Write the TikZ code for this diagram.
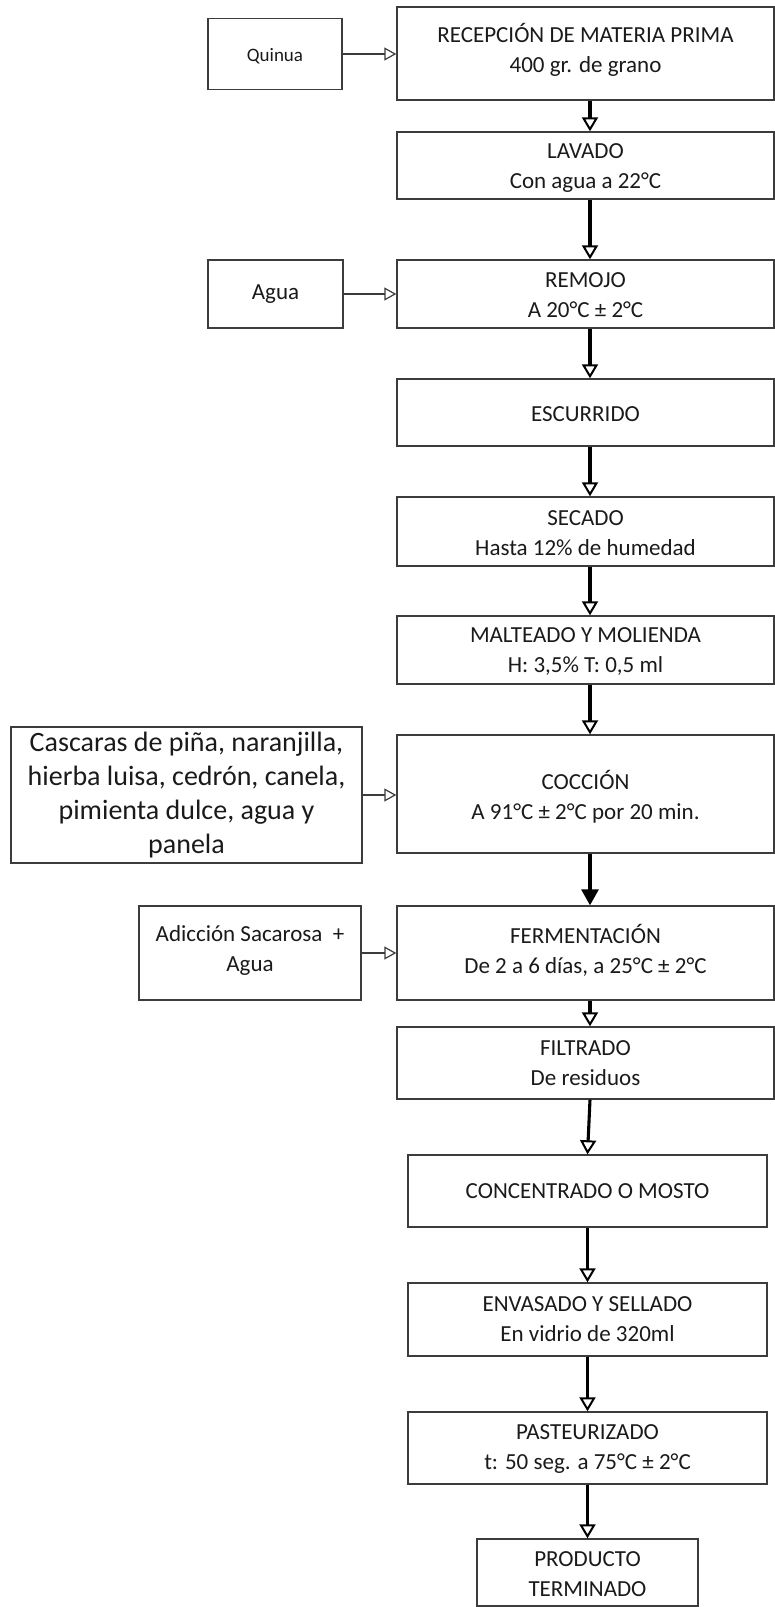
\documentclass[tikz,border=0pt]{standalone}
\usepackage{fontspec}
\setmainfont{Carlito}
\usetikzlibrary{arrows.meta}
\definecolor{linec}{HTML}{3C3C3C}
\definecolor{textc}{HTML}{1A1A1A}
\tikzset{
  stepbox/.style={draw=linec, line width=1.4pt, inner sep=0pt},
  txt/.style={inner sep=0pt, align=center, text=textc, font=\fontsize{23}{30}\selectfont},
  flow/.style={line width=3.1pt, draw=black,
    -{Triangle[open, length=14pt, width=16pt, line width=2pt]}},
  flowfill/.style={line width=3.1pt, draw=black,
    -{Triangle[length=16pt, width=17pt]}},
  side/.style={line width=1.1pt, draw=linec,
    -{Triangle[open, length=12pt, width=13pt, line width=1.2pt]}},
}
\begin{document}
\begin{tikzpicture}[x=1pt,y=-1pt]
\useasboundingbox (0,0) rectangle (775,1607);
% main column boxes
\node[stepbox, minimum width=377pt, minimum height=93pt] (r1) at (585.5,53.5) {};
\node[stepbox, minimum width=377pt, minimum height=67pt] (r2) at (585.5,165.5) {};
\node[stepbox, minimum width=377pt, minimum height=68pt] (r3) at (585.5,294) {};
\node[stepbox, minimum width=377pt, minimum height=67pt] (r4) at (585.5,412.5) {};
\node[stepbox, minimum width=377pt, minimum height=69pt] (r5) at (585.5,531.5) {};
\node[stepbox, minimum width=377pt, minimum height=68pt] (r6) at (585.5,650) {};
\node[stepbox, minimum width=377pt, minimum height=118pt] (r7) at (585.5,794) {};
\node[stepbox, minimum width=377pt, minimum height=94pt] (r8) at (585.5,953) {};
\node[stepbox, minimum width=377pt, minimum height=72pt] (r9) at (585.5,1063) {};
\node[stepbox, minimum width=359pt, minimum height=72pt] (r10) at (587.5,1191) {};
\node[stepbox, minimum width=359pt, minimum height=73pt] (r11) at (587.5,1319.5) {};
\node[stepbox, minimum width=359pt, minimum height=72pt] (r12) at (587.5,1448) {};
\node[stepbox, minimum width=221pt, minimum height=67pt] (r13) at (587.5,1572.5) {};
% input boxes
\node[stepbox, minimum width=134pt, minimum height=71pt] (q) at (275,54) {};
\node[stepbox, minimum width=135pt, minimum height=68pt] (ag) at (275.5,294) {};
\node[stepbox, minimum width=351pt, minimum height=136pt] (ca) at (186.5,795) {};
\node[stepbox, minimum width=222pt, minimum height=94pt] (ad) at (250,953) {};
% texts
\node[txt] (t1) at ([yshift=4pt]r1.center) {RECEPCIÓN DE MATERIA PRIMA\\400 gr. de grano};
\node[txt] (t2) at ([yshift=-3pt]r2.center) {LAVADO\\Con agua a 22°C};
\node[txt] (t3) at ([yshift=-1.5pt]r3.center) {REMOJO\\A 20°C ± 2°C};
\node[txt] (t4) at ([yshift=-1.5pt]r4.center) {ESCURRIDO};
\node[txt] (t5) at ([yshift=-2pt]r5.center) {SECADO\\Hasta 12\% de humedad};
\node[txt] (t6) at ([yshift=-1pt]r6.center) {MALTEADO Y MOLIENDA\\H: 3,5\% T: 0,5 ml};
\node[txt] (t7) at ([yshift=-3pt]r7.center) {COCCIÓN\\A 91°C ± 2°C por 20 min.};
\node[txt] (t8) at ([yshift=3pt]r8.center) {FERMENTACIÓN\\De 2 a 6 días, a 25°C ± 2°C};
\node[txt] (t9) at (r9.center) {FILTRADO\\De residuos};
\node[txt] (t10) at (r10.center) {CONCENTRADO O MOSTO};
\node[txt] (t11) at (r11.center) {ENVASADO Y SELLADO\\En vidrio de 320ml};
\node[txt] (t12) at ([yshift=-1pt]r12.center) {PASTEURIZADO\\t: 50 seg. a 75°C ± 2°C};
\node[txt] (t13) at ([yshift=-2pt]r13.center) {PRODUCTO\\TERMINADO};
\node[txt, font=\fontsize{19}{24}\selectfont] (tq) at ([yshift=-2pt]q.center) {Quinua};
\node[txt] (tag) at (ag.center) {Agua};
\node[txt, font=\fontsize{28}{34.3}\selectfont] (tca) at (ca.center) {Cascaras de piña, naranjilla,\\hierba luisa, cedrón, canela,\\pimienta dulce, agua y\\panela};
\node[txt] (tad) at ([yshift=3pt]ad.center) {Adicción Sacarosa \ +\\Agua};
% main flow
\draw[flow] ([xshift=4.5pt]r1.south) -- ([xshift=4.5pt]r2.north);
\draw[flow] ([xshift=4.5pt]r2.south) -- ([xshift=4.5pt]r3.north);
\draw[flow] ([xshift=4.5pt]r3.south) -- ([xshift=4.5pt]r4.north);
\draw[flow] ([xshift=4.5pt]r4.south) -- ([xshift=4.5pt]r5.north);
\draw[flow] ([xshift=4.5pt]r5.south) -- ([xshift=4.5pt]r6.north);
\draw[flow] ([xshift=4.5pt]r6.south) -- ([xshift=4.5pt]r7.north);
\draw[flowfill] ([xshift=4.5pt]r7.south) -- ([xshift=4.5pt]r8.north);
\draw[flow] ([xshift=4.5pt]r8.south) -- ([xshift=4.5pt]r9.north);
\draw[flow] ([xshift=4.5pt]r9.south) -- (r10.north);
\draw[flow] (r10.south) -- (r11.north);
\draw[flow] (r11.south) -- (r12.north);
\draw[flow] (r12.south) -- (r13.north);
% side inputs
\draw[side] (q.east) -- (q.east -| r1.west);
\draw[side] (ag.east) -- (r3.west);
\draw[side] (ca.east) -- (ca.east -| r7.west);
\draw[side] (ad.east) -- (r8.west);
\end{tikzpicture}
\end{document}
